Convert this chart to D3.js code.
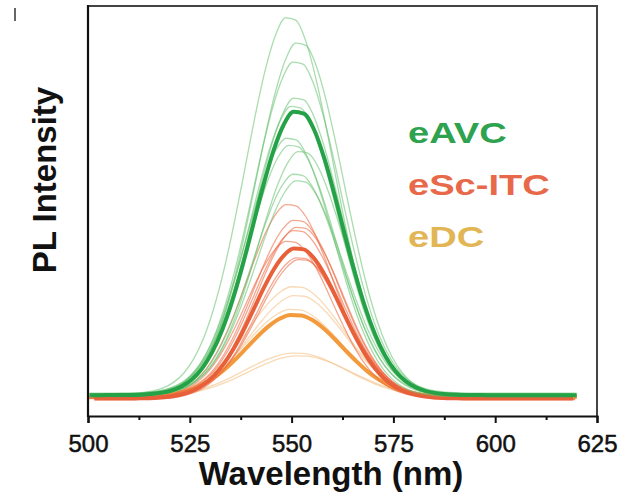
<!DOCTYPE html>
<html>
<head>
<meta charset="utf-8">
<script src="https://cdn.jsdelivr.net/npm/d3@7"></script>
<style>
  html, body { margin: 0; padding: 0; background: #fff; }
  svg { display: block; }
</style>
</head>
<body>
<svg id="chart" width="634" height="497"></svg>
<script>
// Wavelength grid (nm) and the normalised PL line shape sampled on it
const wavelengths = d3.range(500, 620.01, 2.5);
const lineShape = [
  0, 0, 0.0001, 0.0003, 0.0007, 0.0017, 0.0039, 0.0081, 0.0163, 0.0308,
  0.0551, 0.0938, 0.151, 0.231, 0.334, 0.458, 0.595, 0.734, 0.857, 0.949,
  0.996, 0.990, 0.934, 0.834, 0.707, 0.567, 0.432, 0.311, 0.213, 0.138,
  0.0847, 0.0493, 0.0272, 0.0142, 0.0070, 0.0033, 0.0015, 0.0006, 0.0002, 0,
  0, 0, 0, 0, 0, 0, 0, 0, 0
];
const shapeCenter = 551;

// eAVC spectra: peak intensity (a.u.), peak wavelength (nm), baseline (a.u.)
const eavcPeaks   = [101.3, 95.1, 89.2, 80.1, 77.7, 69.6, 66.9, 65.6, 59.7, 57.5];
const eavcCenters = [549.5, 552.0, 551.3, 551.5, 550.8, 549.6, 550.2, 552.5, 551.3, 552.0];
const eavcBases   = [0.9, 0.3, 1.1, 0.5, 0.7, 0.2, 1.0, 0.6, 0.4, 0.8];
const eavcMean    = [76.3, 551.5, 0.6];

// eSc-ITC spectra
const escPeaks   = [52.2, 47.6, 46.3, 44.9, 42.2, 38.2, 36.9];
const escCenters = [549.6, 551.3, 552.0, 551.3, 549.5, 552.0, 552.5];
const escBases   = [-0.3, 0.1, -0.5, 0.0, -0.2, -0.6, 0.2];
const escMean    = [40.4, 551.5, -0.3];

// eDC spectra
const edcPeaks   = [29.6, 27.5, 23.4, 11.9, 11.1];
const edcCenters = [551.0, 551.5, 550.5, 551.0, 552.0];
const edcBases   = [0.2, -0.1, 0.3, 0.0, 0.1];
const edcMean    = [22.1, 550.8, 0.1];

const xTicks = [500, 525, 550, 575, 600, 625];
const xMinorTicks = [512.5, 537.5, 562.5, 587.5, 612.5];
const legendLabels = ["eAVC", "eSc-ITC", "eDC"];

const groups = [
  { peaks: edcPeaks, centers: edcCenters, bases: edcBases, mean: edcMean, widen: 1.08,
    thin: "#f4c690", thinOp: 0.65, thick: "#f39a3c" },
  { peaks: escPeaks, centers: escCenters, bases: escBases, mean: escMean, widen: 0.98,
    thin: "#ee6a46", thinOp: 0.6, thick: "#e8603a" },
  { peaks: eavcPeaks, centers: eavcCenters, bases: eavcBases, mean: eavcMean, widen: 1.0,
    thin: "#62c06c", thinOp: 0.55, thick: "#25a247" }
];
const legendColors = ["#2ea24f", "#e8694a", "#e2b655"];

const svg = d3.select("#chart");
const x = d3.scaleLinear().domain([500, 625]).range([88, 597]);
const y = d3.scaleLinear().domain([-5, 105]).range([416, 6]);

const line = d3.line()
  .x(d => x(d[0]))
  .y(d => y(d[1]))
  .curve(d3.curveMonotoneX);

function spectrum(peak, center, base, widen) {
  return wavelengths.map((wl, i) => [
    Math.min(620, Math.max(500, center + (wl - shapeCenter) * widen)),
    base + peak * lineShape[i]
  ]);
}

const plot = svg.append("g");
groups.forEach(g => {
  g.peaks.forEach((p, i) => {
    const w = p < 15 ? g.widen * 1.08 : g.widen;
    plot.append("path")
      .attr("d", line(spectrum(p, g.centers[i], g.bases[i], w)))
      .attr("fill", "none")
      .attr("stroke", g.thin)
      .attr("stroke-opacity", g.thinOp)
      .attr("stroke-width", 1.3);
  });
  plot.append("path")
    .attr("d", line(spectrum(g.mean[0], g.mean[1], g.mean[2], g.widen)))
    .attr("fill", "none")
    .attr("stroke", g.thick)
    .attr("stroke-width", 4)
    .attr("stroke-linejoin", "round");
});

// Frame: top and right edges
svg.append("path")
  .attr("d", `M${x(500)},${y(105)}H${x(625)}V${y(-5)}`)
  .attr("fill", "none")
  .attr("stroke", "#444")
  .attr("stroke-width", 2);

// Left axis line (no ticks)
svg.append("line")
  .attr("x1", x(500)).attr("x2", x(500))
  .attr("y1", y(105) - 1).attr("y2", y(-5) + 1)
  .attr("stroke", "#111").attr("stroke-width", 2.2);

// Bottom axis with major and minor ticks
const xAxis = svg.append("g")
  .attr("transform", `translate(0,${y(-5)})`)
  .call(d3.axisBottom(x).tickValues(xTicks).tickSize(7).tickPadding(12)
    .tickFormat(d3.format("d")));
xAxis.select(".domain").attr("stroke", "#111").attr("stroke-width", 2.2);
xAxis.selectAll(".tick line").attr("stroke", "#111").attr("stroke-width", 2);
xAxis.selectAll(".tick text")
  .attr("fill", "#111")
  .attr("stroke", "#111")
  .attr("stroke-width", 0.5)
  .style("font-family", "Arial, 'Liberation Sans', sans-serif")
  .style("font-size", "24px");

const xMinor = svg.append("g")
  .attr("transform", `translate(0,${y(-5)})`)
  .call(d3.axisBottom(x).tickValues(xMinorTicks).tickSize(4).tickFormat(""));
xMinor.select(".domain").remove();
xMinor.selectAll(".tick line").attr("stroke", "#111").attr("stroke-width", 2);

// Axis titles
svg.append("text")
  .attr("x", 331).attr("y", 485)
  .attr("text-anchor", "middle")
  .style("font-family", "Arial, 'Liberation Sans', sans-serif")
  .style("font-weight", "bold")
  .style("font-size", "33px")
  .attr("fill", "#111")
  .text("Wavelength (nm)");

svg.append("text")
  .attr("transform", "translate(56,180) rotate(-90)")
  .attr("text-anchor", "middle")
  .style("font-family", "Arial, 'Liberation Sans', sans-serif")
  .style("font-weight", "bold")
  .style("font-size", "33px")
  .attr("fill", "#111")
  .text("PL Intensity");

// Legend text, coloured by series
legendLabels.forEach((t, i) => {
  svg.append("text")
    .attr("transform", `translate(408,${143 + i * 52}) scale(1.27,1)`)
    .style("font-family", "Arial, 'Liberation Sans', sans-serif")
    .style("font-weight", "bold")
    .style("font-size", "30px")
    .attr("fill", legendColors[i])
    .text(t);
});

// Small mark at the top-left corner
svg.append("line")
  .attr("x1", 15).attr("x2", 15).attr("y1", 8).attr("y2", 21)
  .attr("stroke", "#333").attr("stroke-width", 1.5);
</script>
</body>
</html>
